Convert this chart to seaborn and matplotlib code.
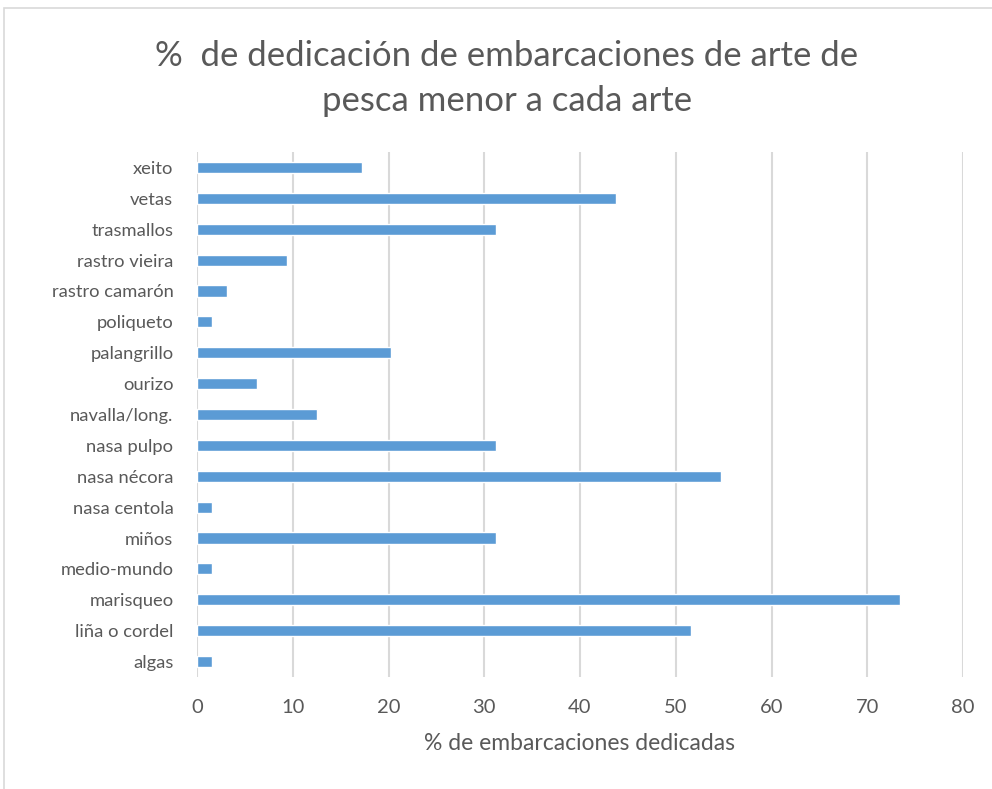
import pandas as pd
import seaborn as sns
import matplotlib.pyplot as plt
from matplotlib.patches import Rectangle

plt.switch_backend("Agg")

artes = ["xeito", "vetas", "trasmallos", "rastro vieira", "rastro camarón",
         "poliqueto", "palangrillo", "ourizo", "navalla/long.", "nasa pulpo",
         "nasa nécora", "nasa centola", "miños", "medio-mundo", "marisqueo",
         "liña o cordel", "algas"]
porcentaje = [17.19, 43.75, 31.25, 9.38, 3.13,
              1.56, 20.31, 6.25, 12.5, 31.25,
              54.69, 1.56, 31.25, 1.56, 73.44,
              51.56, 1.56]
x_ticks = [0, 10, 20, 30, 40, 50, 60, 70, 80]

df = pd.DataFrame({"arte": artes, "pct": porcentaje})

sns.set_style("white")
plt.rcParams["font.family"] = ["Lato", "DejaVu Sans"]
text_color = "#595959"

fig = plt.figure(figsize=(9.92, 7.89), dpi=100)
ax = fig.add_axes([197 / 992, 1 - 677 / 789, (963 - 197) / 992, (677 - 152) / 789])

sns.barplot(data=df, y="arte", x="pct", ax=ax, color="#5b9bd5",
            saturation=1, width=0.36, orient="h")

ax.set_xlim(0, 80)
ax.set_ylim(16.5, -0.5)
ax.set_xticks(x_ticks)
ax.set_xticklabels([str(t) for t in x_ticks])
ax.grid(axis="x", color="#d9d9d9", linewidth=1.5)
ax.set_axisbelow(True)
for s in ax.spines.values():
    s.set_visible(False)
ax.tick_params(axis="y", length=0, labelsize=13.2, colors=text_color, pad=17)
ax.tick_params(axis="x", length=0, labelsize=14.5, colors=text_color, pad=16)
ax.set_ylabel("")
ax.set_xlabel("% de embarcaciones dedicadas", fontsize=16.5, color=text_color, labelpad=12)

fig.suptitle("%  de dedicación de embarcaciones de arte de\npesca menor a cada arte",
             x=507 / 992, y=1 - 40 / 789, fontsize=25, color=text_color,
             linespacing=1.5, va="top")

fig.patches.append(Rectangle((4 / 992, -0.1), 1.1, 1 - 8 / 789 + 0.1,
                             transform=fig.transFigure, fill=False,
                             edgecolor="#d9d9d9", linewidth=1.2))

fig.savefig("out.png", dpi=100)
plt.close(fig)
